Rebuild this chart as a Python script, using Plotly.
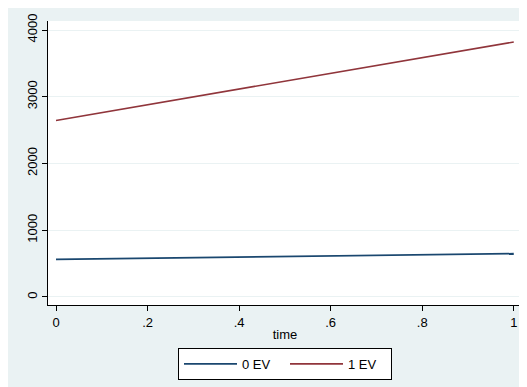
import plotly.graph_objects as go

time = [0, 1]
ev0 = [563, 650]
ev1 = [2645, 3820]
series_names = ["0 EV", "1 EV"]
x_ticks = [0, 0.2, 0.4, 0.6, 0.8, 1]
x_ticklabels = ["0", ".2", ".4", ".6", ".8", "1"]
y_ticks = [0, 1000, 2000, 3000, 4000]

BG = "#EAF2F3"
FONT = "Liberation Sans, Arial, sans-serif"

fig = go.Figure()
fig.add_trace(go.Scatter(x=time, y=ev0, mode="lines", name=series_names[0],
                         line=dict(color="#1a476f", width=1.6)))
fig.add_trace(go.Scatter(x=time, y=ev1, mode="lines", name=series_names[1],
                         line=dict(color="#90353b", width=1.6)))

fig.update_layout(
    width=527, height=387,
    margin=dict(l=40, r=13, t=13, b=90),
    paper_bgcolor=BG, plot_bgcolor="white",
    font=dict(family=FONT, size=13, color="black"),
    showlegend=True,
    legend=dict(orientation="h", x=0.5, xanchor="center", y=-0.151, yanchor="top",
                bgcolor="white", bordercolor="black", borderwidth=1,
                font=dict(size=13), itemwidth=53, entrywidth=38),
    xaxis=dict(range=[-0.0175, 1.018], tickvals=x_ticks, ticktext=x_ticklabels,
               showgrid=False, zeroline=False, showline=True, linecolor="black",
               linewidth=1.2, ticks="outside", ticklen=5, tickcolor="black",
               automargin=False,
               title=dict(text="time", standoff=1, font=dict(size=13))),
    yaxis=dict(range=[-120, 4135], tickvals=y_ticks, tickangle=-90,
               showgrid=True, gridcolor=BG, gridwidth=1, zeroline=False,
               showline=True, linecolor="black", linewidth=1.2, automargin=False,
               ticks="outside", ticklen=5, tickcolor="black"),
)

fig.write_html("out.html")
